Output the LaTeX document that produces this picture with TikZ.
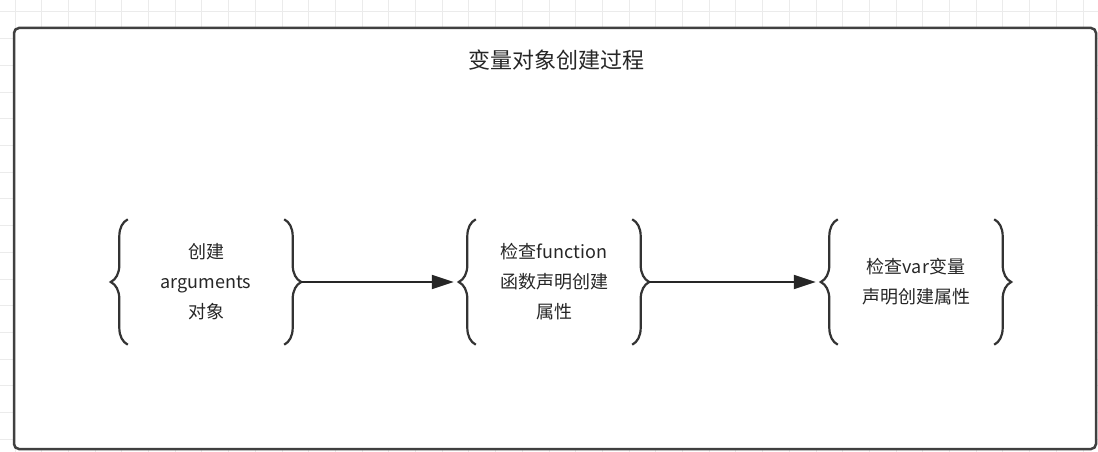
\documentclass[tikz,border=0pt]{standalone}
\usepackage{fontspec}
\setmainfont{Noto Sans CJK SC}
\usetikzlibrary{decorations.pathreplacing,arrows.meta}
\begin{document}
\begin{tikzpicture}[x=1pt,y=-1pt,
  box/.style={minimum width=156pt,minimum height=125pt,inner sep=0pt,align=center,font=\fontsize{18}{30}\selectfont,text=black!85},
  br/.style={decorate,decoration={brace,amplitude=17pt},line width=2.2pt,draw=black!80},
  conn/.style={line width=2pt,draw=black!85,-{Triangle[length=22pt,width=14pt]}}]
\useasboundingbox (0,0) rectangle (1098,452);
\fill[white] (0,0) rectangle (1098,452);
\foreach \i in {0,...,41} \draw[black!8,line width=1pt] (15+\i*26.7,0) -- (15+\i*26.7,452);
\foreach \i in {0,...,17} \draw[black!8,line width=1pt] (0,12+\i*26.7) -- (1098,12+\i*26.7);
\draw[rounded corners=5pt,fill=white,draw=black!75,line width=2.5pt] (14,28) rectangle (1096,449);
\node[font=\fontsize{22}{26}\selectfont,text=black!85] (title) at (556,60) {变量对象创建过程};
\node[box] (n1) at (206,282) {创建\\arguments\\对象};
\node[box] (n2) at (554,282) {检查function\\函数声明创建\\属性};
\node[box] (n3) at (916,282) {检查var变量\\声明创建属性};
\foreach \n in {n1,n2,n3}{
  \draw[br] (\n.south west) -- (\n.north west);
  \draw[br] (\n.north east) -- (\n.south east);
}
\draw[conn] ([xshift=17pt]n1.east) -- ([xshift=-22pt]n2.west);
\draw[conn] ([xshift=17pt]n2.east) -- ([xshift=-22pt]n3.west);
\end{tikzpicture}
\end{document}
